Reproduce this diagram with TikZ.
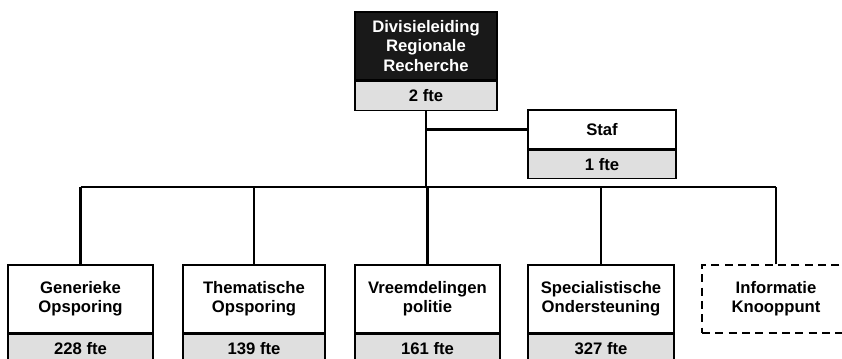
\documentclass[tikz,border=0pt]{standalone}
\usepackage{fontspec}
\setmainfont{Liberation Sans}
\usetikzlibrary{positioning}

\begin{document}
\begin{tikzpicture}[x=0.75pt,y=-0.75pt,
                every node/.style={draw, rectangle, line width=0.9pt, inner sep=0pt, align=center,
                                   font=\bfseries\fontsize{12.5}{14.5}\selectfont},
                namebox/.style={minimum width=108.75pt, minimum height=51pt, fill=white},
                ftebox/.style={minimum width=108.75pt, minimum height=21pt, fill=gray!25},
                headbox/.style={namebox, fill=black!90, text=white},
                dashbox/.style={namebox, dash pattern=on 6pt off 4pt},
                conn/.style={line width=1.6pt}]
            \clip (0,0) rectangle (842,359);

            % top
            \node[headbox, minimum width=106.5pt] (lrr) at (426,46) {Divisieleiding\\Regionale\\Recherche};
            \node[ftebox, minimum width=106.5pt, minimum height=21.75pt, below=0pt of lrr] (lrrfte) {2 fte};

            % staf
            \node[namebox, minimum width=111pt, minimum height=29.25pt] (staf) at (602,129.5) {Staf};
            \node[ftebox, minimum width=111pt, below=0pt of staf] (staffte) {1 fte};

            % afdelingen
            \node[namebox] (gen) at (80.5,299) {Generieke\\Opsporing};
            \node[ftebox, below=0pt of gen] (genfte) {228 fte};
            \node[namebox, minimum width=106.5pt] (them) at (254,299) {Thematische\\Opsporing};
            \node[ftebox, minimum width=106.5pt, below=0pt of them] (themfte) {139 fte};
            \node[namebox] (vreemd) at (427.5,299) {Vreemdelingen\\politie};
            \node[ftebox, below=0pt of vreemd] (vreemdfte) {161 fte};
            \node[namebox, minimum width=109.5pt] (spec) at (601,299) {Specialistische\\Ondersteuning};
            \node[ftebox, minimum width=109.5pt, below=0pt of spec] (specfte) {327 fte};
            \node[dashbox, minimum width=111pt] (info) at (776,299) {Informatie\\Knooppunt};

            % lijnen
            \coordinate (bus) at (426,187);
            \draw[conn] (lrrfte.south) -- (bus);
            \draw[conn] (staf.west) -- (staf.west -| bus);
            \draw[conn] (bus -| gen.north) -- (bus -| info.north);
            \foreach \n in {gen,them,vreemd,spec,info}
                \draw[conn] (\n.north) -- (\n.north |- bus);
        \end{tikzpicture}
\end{document}
